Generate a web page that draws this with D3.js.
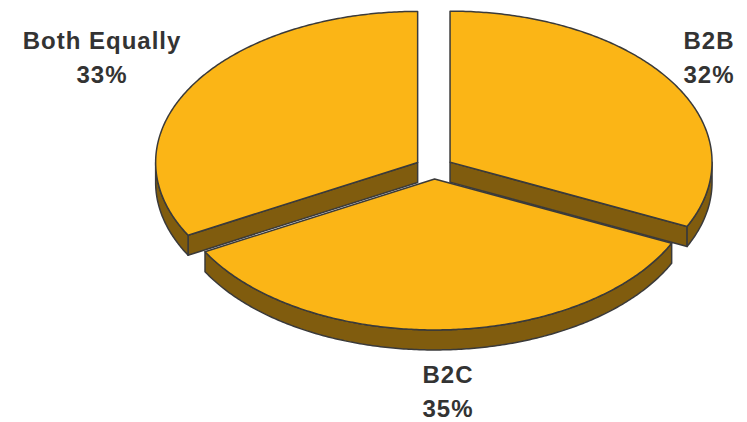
<!DOCTYPE html>
<html>
<head>
<meta charset="utf-8">
<title>B2B / B2C pie</title>
<script src="https://cdn.jsdelivr.net/npm/d3@7"></script>
<style>
  body { margin: 0; background: #fff; }
  text { font-family: "Liberation Sans", Arial, sans-serif; font-weight: bold; fill: #333; letter-spacing: 1px; }
</style>
</head>
<body>
<script>
// data
var categories = ["B2B", "B2C", "Both Equally"];
var values = [32, 35, 33];

var w = 747, h = 422;

// layout of the 3d pie
var cx = 434, cy = 168;
var rx = 262, ry = 151;
var depth = 20;
var explode = 19;
var topColor = "#fbb516";
var sideColor = "#805c0e";
var lineColor = "#3a3a3a";

// label anchors (first line baseline)
var labelPos = {
  "B2B": [709, 49],
  "B2C": [448, 383],
  "Both Equally": [102, 49]
};

var svg = d3.select("body").append("svg")
  .attr("width", w)
  .attr("height", h);

var pie = d3.pie().sort(null).startAngle(0).endAngle(2 * Math.PI);
var slices = pie(values).map(function(d, i) {
  d.name = categories[i];
  var mid = (d.startAngle + d.endAngle) / 2;
  d.ox = cx + explode * Math.sin(mid);
  d.oy = cy - explode * (ry / rx) * Math.cos(mid);
  return d;
});

var line = d3.line();

// point on the rim of a slice (angle clockwise from 12 o'clock)
function pt(d, a, dz) {
  return [d.ox + rx * Math.sin(a), d.oy - ry * Math.cos(a) + (dz || 0)];
}
function arcPts(d, a0, a1, dz) {
  var n = Math.max(2, Math.ceil(Math.abs(a1 - a0) / 0.01));
  var p = [];
  for (var k = 0; k <= n; k++) p.push(pt(d, a0 + (a1 - a0) * k / n, dz));
  return p;
}

// back slices first
var order = slices.slice().sort(function(a, b) { return a.oy - b.oy; });

order.forEach(function(d) {
  var g = svg.append("g");
  var c = [d.ox, d.oy], cb = [d.ox, d.oy + depth];

  // radial walls facing the viewer
  if (Math.sin(d.startAngle) < -1e-6) {
    var p = pt(d, d.startAngle);
    g.append("path").attr("d", line([c, p, [p[0], p[1] + depth], cb]) + "Z")
      .attr("fill", sideColor).attr("stroke", lineColor).attr("stroke-width", 1.5)
      .attr("stroke-linejoin", "round");
  }
  if (Math.sin(d.endAngle) > 1e-6) {
    var q = pt(d, d.endAngle);
    g.append("path").attr("d", line([c, q, [q[0], q[1] + depth], cb]) + "Z")
      .attr("fill", sideColor).attr("stroke", lineColor).attr("stroke-width", 1.5)
      .attr("stroke-linejoin", "round");
  }

  // outer wall: front half only
  var a0 = Math.max(d.startAngle, Math.PI / 2);
  var a1 = Math.min(d.endAngle, 3 * Math.PI / 2);
  if (a1 > a0) {
    var topRim = arcPts(d, a0, a1, 0);
    var botRim = arcPts(d, a1, a0, depth);
    g.append("path").attr("d", line(topRim.concat(botRim)) + "Z")
      .attr("fill", sideColor).attr("stroke", lineColor).attr("stroke-width", 1.5)
      .attr("stroke-linejoin", "round");
  }

  // top face
  g.append("path")
    .attr("d", line([c].concat(arcPts(d, d.startAngle, d.endAngle, 0))) + "Z")
    .attr("fill", topColor).attr("stroke", lineColor).attr("stroke-width", 1.5)
    .attr("stroke-linejoin", "round");
});

// labels
slices.forEach(function(d) {
  var p = labelPos[d.name];
  var t = svg.append("text")
    .attr("text-anchor", "middle")
    .attr("font-size", "24px");
  t.append("tspan").attr("x", p[0]).attr("y", p[1]).text(d.name);
  t.append("tspan").attr("x", p[0]).attr("y", p[1] + 34).text(d3.format(".0%")(d.value / d3.sum(values)));
});
</script>
</body>
</html>
